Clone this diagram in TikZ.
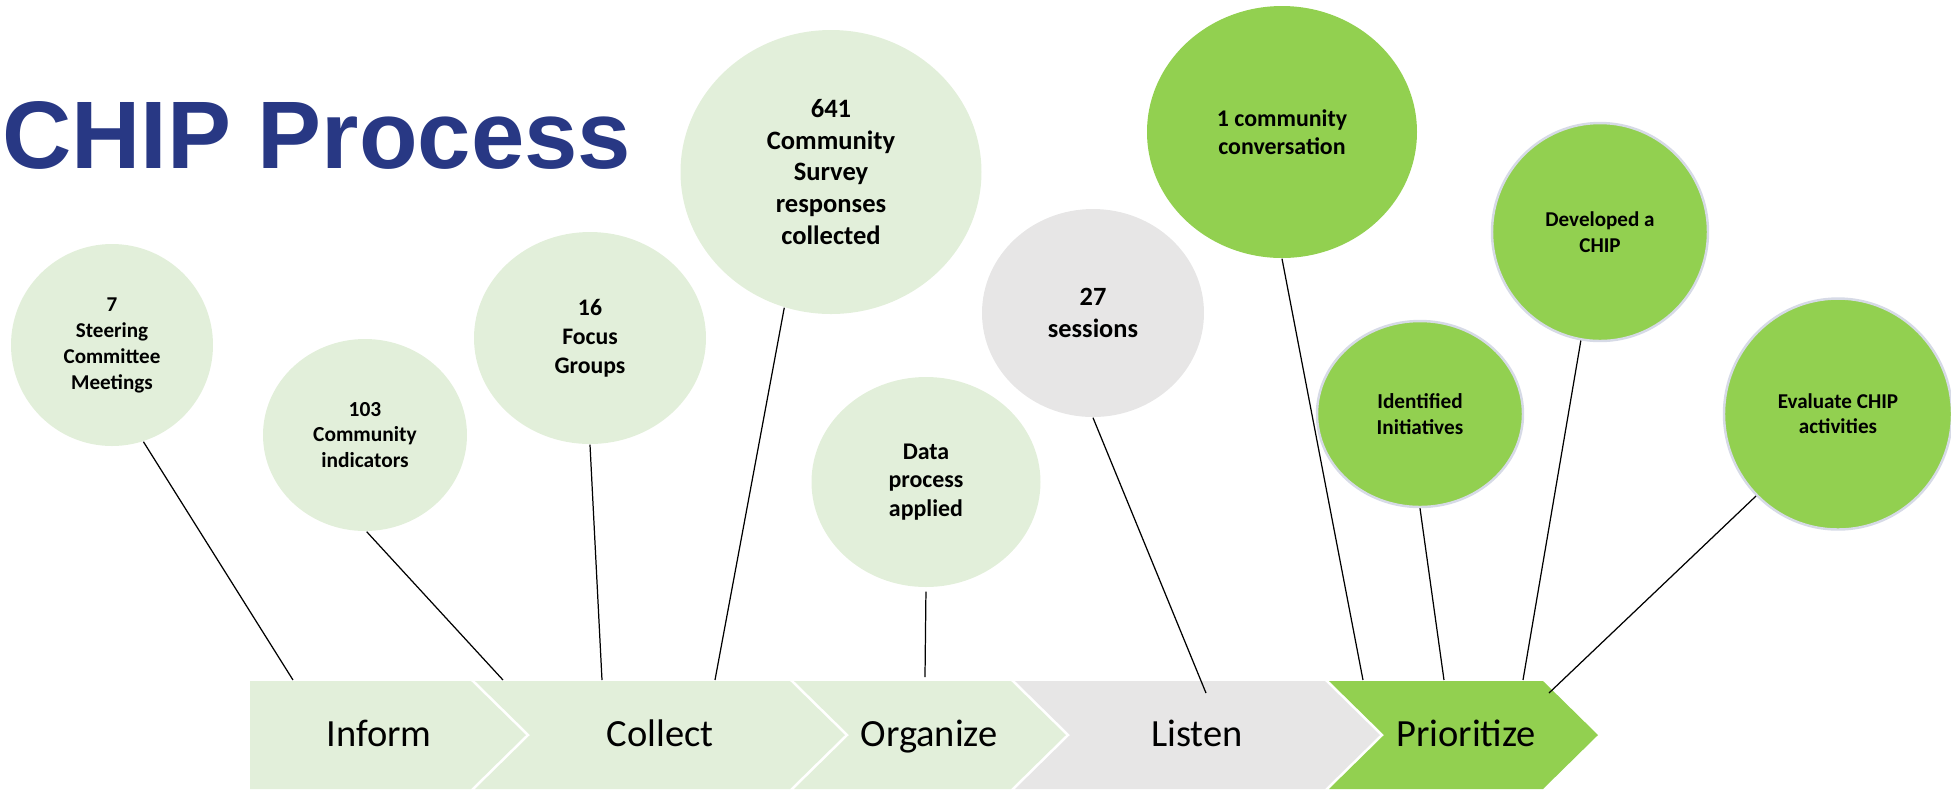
\documentclass[tikz,border=0pt]{standalone}
\usepackage{fontspec}
\setmainfont{Carlito}
\newfontfamily\headfont{Liberation Sans}
\usepackage{tikz}
\usetikzlibrary{shapes.geometric}

\definecolor{palegreen}{HTML}{E2EFDA}
\definecolor{lightgrey}{HTML}{E7E6E6}
\definecolor{limegreen}{HTML}{92D050}
\definecolor{navyblue}{HTML}{283884}
\definecolor{rimgrey}{HTML}{D6DAE6}

\begin{document}
\begin{tikzpicture}[
            x=0.1mm, y=-0.1mm,
            bubble/.style={
                ellipse, inner sep=0pt, align=center, text=black, font=\bfseries\fontsize{6}{7.4}\selectfont
            },
            pale/.style={bubble, fill=palegreen},
            grey/.style={bubble, fill=lightgrey},
            lime/.style={bubble, fill=limegreen},
            rim/.style={draw=rimgrey, line width=0.7pt},
            stage/.style={
                anchor=base, inner sep=0pt, text=black, font=\fontsize{10.95}{13}\selectfont
            },
            link/.style={draw=black, line width=0.35pt}
        ]
            \useasboundingbox (0,0) rectangle (1951,789);

            % --- TITLE ---
            \node[anchor=base east, inner sep=0pt, text=navyblue,
                  font=\headfont\bfseries\fontsize{27.3}{32}\selectfont] (title) at (632,168) {CHIP Process};

            % --- CHEVRON BAR ---
            \fill[palegreen] (250,681) -- (471,681) -- (526,735) -- (471,789) -- (250,789) -- cycle;
            \fill[palegreen] (475,681) -- (790,681) -- (845,735) -- (790,789) -- (475,789) -- (530,735) -- cycle;
            \fill[palegreen] (794,681) -- (1011,681) -- (1066,735) -- (1011,789) -- (794,789) -- (849,735) -- cycle;
            \fill[lightgrey] (1015,681) -- (1325,681) -- (1380,735) -- (1325,789) -- (1015,789) -- (1070,735) -- cycle;
            \fill[limegreen] (1329,681) -- (1543,681) -- (1598,735) -- (1543,789) -- (1329,789) -- (1384,735) -- cycle;

            \node[stage] (inform) at (379,746) {Inform};
            \node[stage] (collect) at (660,746) {Collect};
            \node[stage] (organize) at (929,746) {Organize};
            \node[stage] (listen) at (1197,746) {Listen};
            \node[stage] (prioritize) at (1466,746) {Prioritize};

            % --- BUBBLES ---
            \node[pale, minimum width=20.2mm, minimum height=20.2mm] (steer) at (112,345) {7\\Steering\\Committee\\Meetings};
            \node[pale, minimum width=20.4mm, minimum height=19.2mm,
                  font=\bfseries\fontsize{6.1}{7.2}\selectfont] (indic) at (365,435) {103\\Community\\indicators};
            \node[pale, minimum width=23.2mm, minimum height=21.2mm,
                  font=\bfseries\fontsize{6.75}{8.25}\selectfont] (focus) at (590,338) {16\\Focus\\Groups};
            \node[pale, minimum width=30.1mm, minimum height=28.4mm,
                  font=\bfseries\fontsize{7.55}{9.0}\selectfont] (survey) at (831,172) {641\\Community\\Survey\\responses\\collected};
            \node[pale, minimum width=22.9mm, minimum height=21mm,
                  font=\bfseries\fontsize{6.8}{8.2}\selectfont] (data) at (926,482) {Data\\process\\applied};
            \node[grey, minimum width=22.2mm, minimum height=20.8mm,
                  font=\bfseries\fontsize{7.5}{9.1}\selectfont] (sessions) at (1093,313) {27\\sessions};
            \node[lime, minimum width=27mm, minimum height=25.2mm,
                  font=\bfseries\fontsize{6.8}{8}\selectfont] (convo) at (1282,132) {1 community\\conversation};
            \node[lime, rim, minimum width=21.6mm, minimum height=21.8mm] (chip) at (1600,232) {Developed a\\CHIP};
            \node[lime, rim, minimum width=20.6mm, minimum height=18.6mm,
                  font=\bfseries\fontsize{6.05}{7.4}\selectfont] (initv) at (1420,414) {Identified\\Initiatives};
            \node[lime, rim, minimum width=22.8mm, minimum height=23.1mm,
                  font=\bfseries\fontsize{6}{7.1}\selectfont] (evalu) at (1838,414) {Evaluate CHIP\\activities};

            % --- STRINGS DOWN TO THE BAR ---
            \coordinate (steer-end) at (293,680);
            \coordinate (indic-end) at (503,680);
            \coordinate (focus-end) at (602,680);
            \coordinate (survey-end) at (715,680);
            \coordinate (data-end) at (925,677);
            \coordinate (sessions-end) at (1206,693);
            \coordinate (convo-end) at (1363,680);
            \coordinate (chip-end) at (1523,680);
            \coordinate (initv-end) at (1444,680);
            \coordinate (evalu-end) at (1549,693);

            \draw[link] (steer.-72.5) -- (steer-end);
            \draw[link] (indic.-89) -- (indic-end);
            \draw[link] (focus.south) -- (focus-end);
            \draw[link] (survey.-109) -- (survey-end);
            \draw[link, shorten <=0.4mm] (data.south) -- (data-end);
            \draw[link] (sessions.south) -- (sessions-end);
            \draw[link] (convo.south) -- (convo-end);
            \draw[link] (chip.-100) -- (chip-end);
            \draw[link] (initv.south) -- (initv-end);
            \draw[link] (evalu.-135) -- (evalu-end);

        \end{tikzpicture}
\end{document}
